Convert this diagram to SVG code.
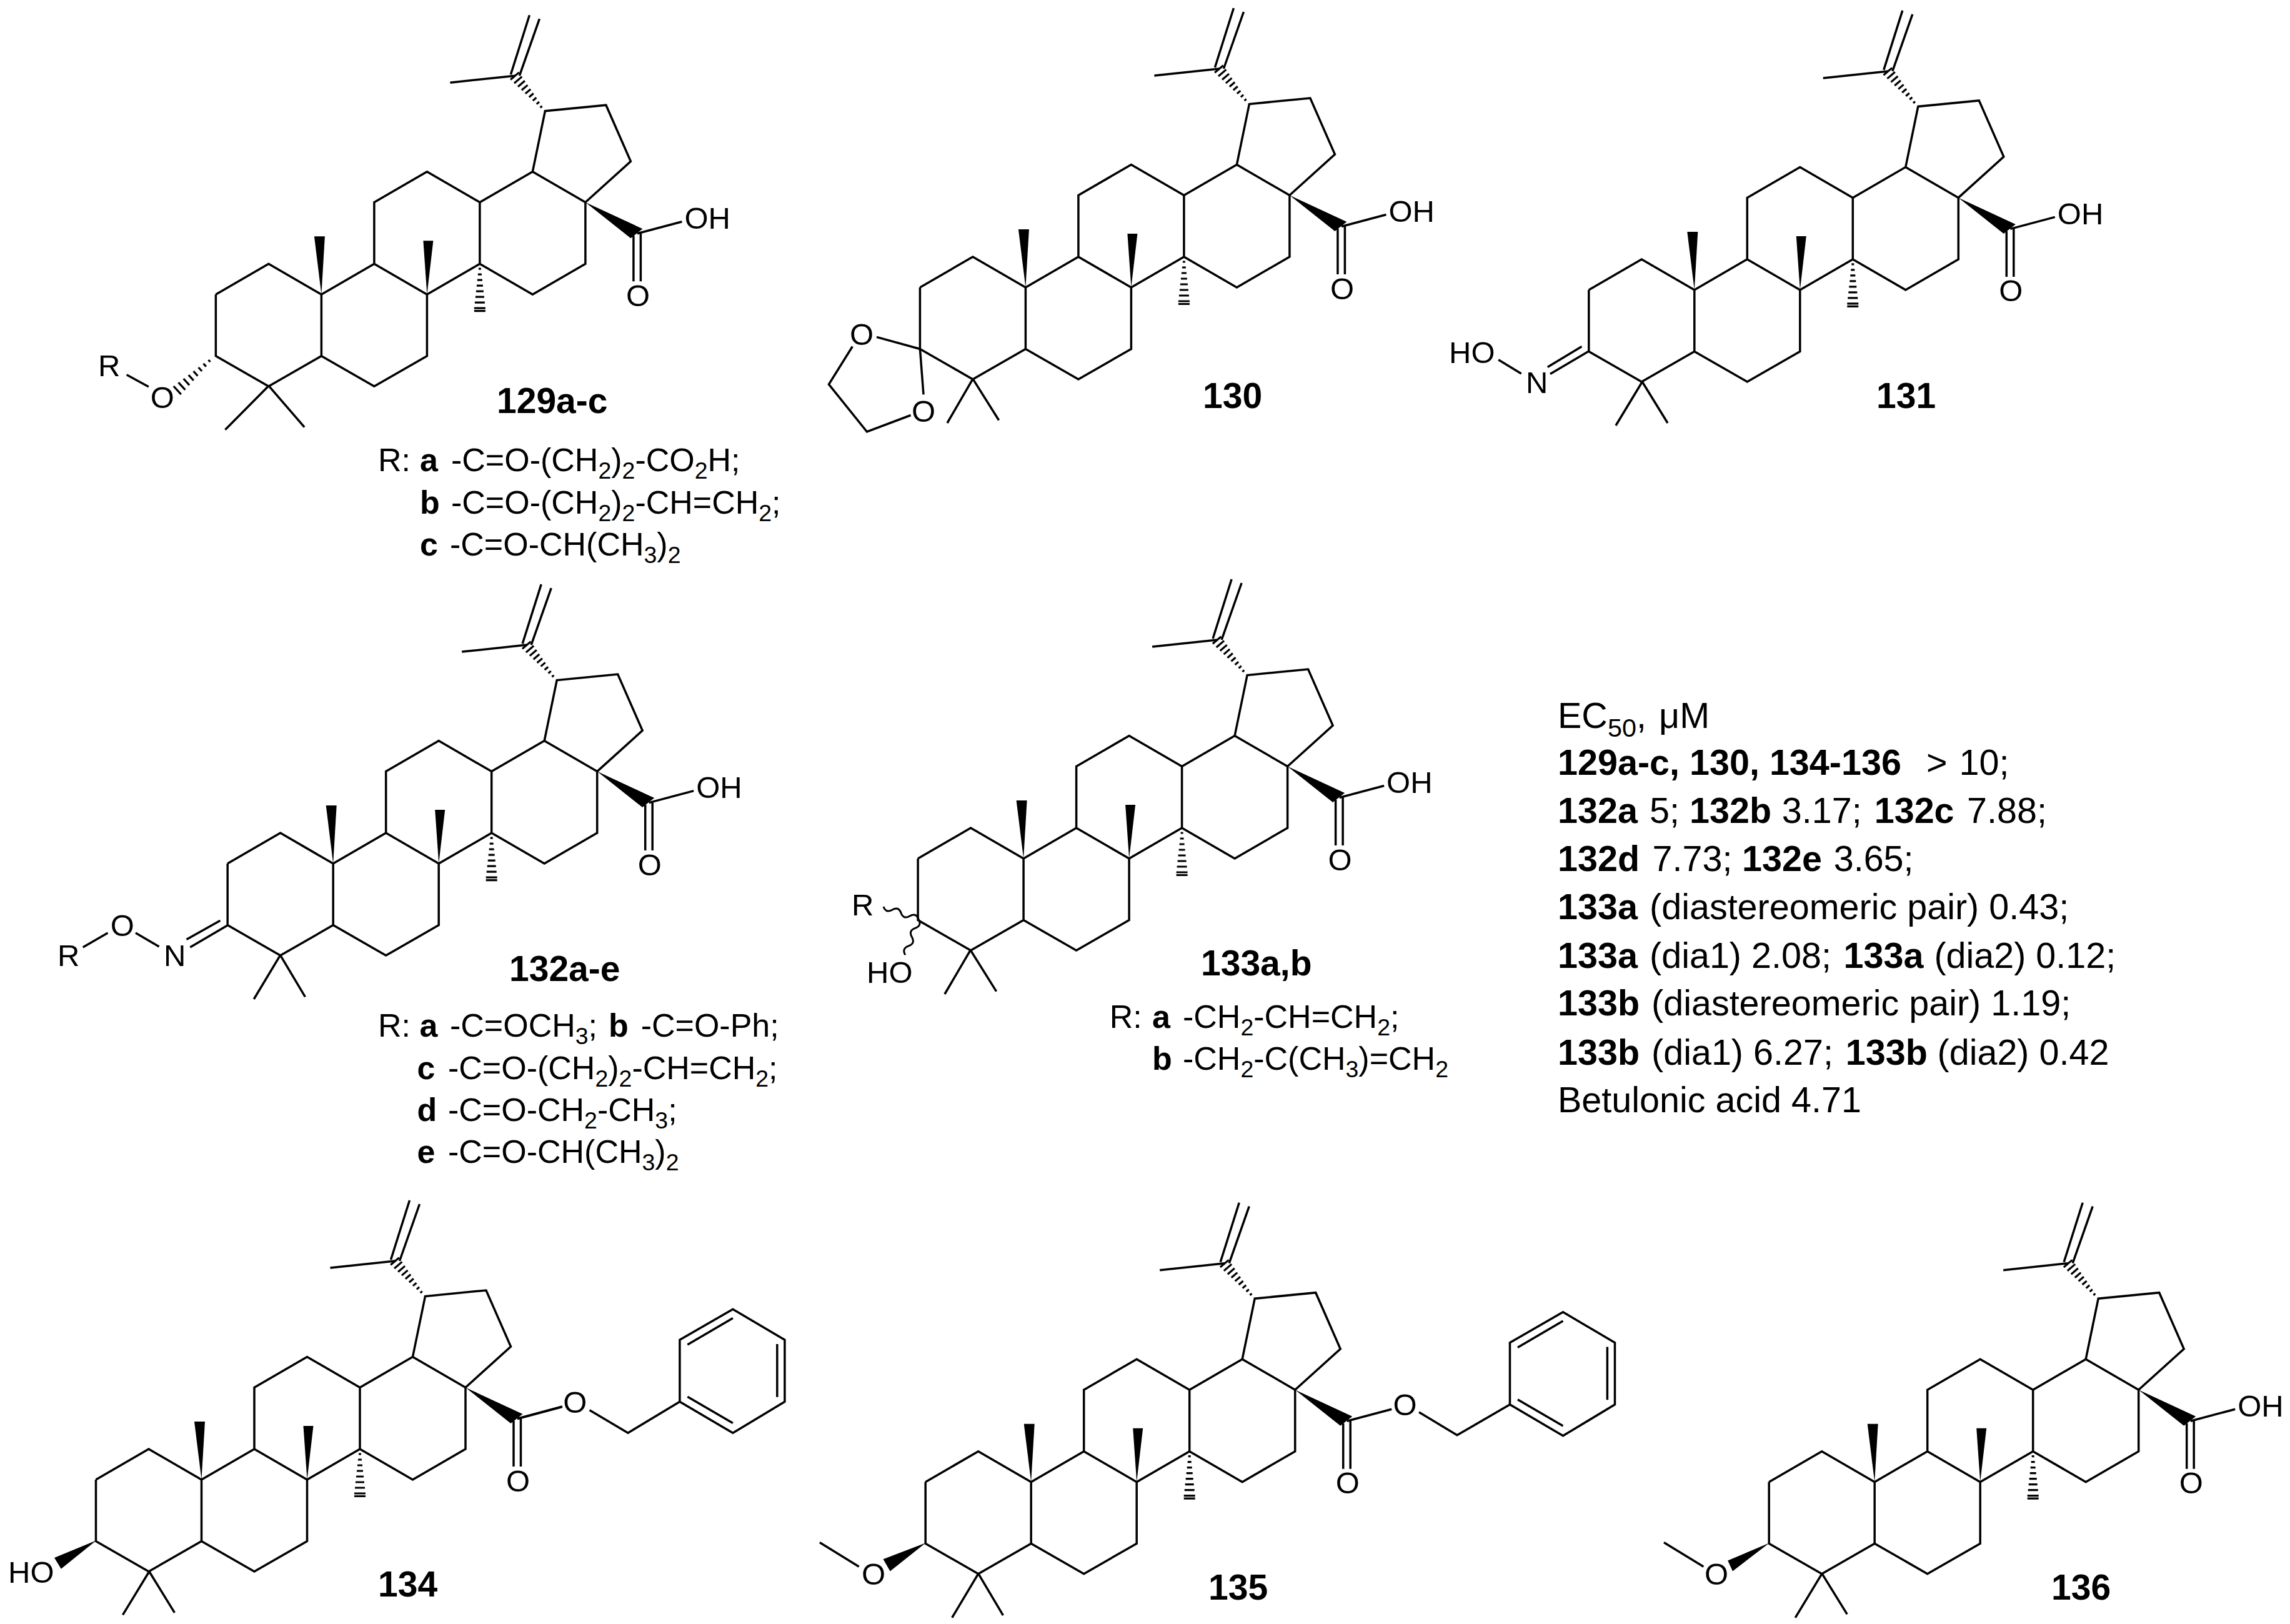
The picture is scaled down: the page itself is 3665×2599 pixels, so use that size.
<svg xmlns="http://www.w3.org/2000/svg" width="3665" height="2599" viewBox="0 0 3665 2599">
<style>
text{font-family:"Liberation Sans",Arial,sans-serif;fill:#000}
.a{font-size:49px}
.am{font-size:49px;text-anchor:middle}
.l{font-size:57px;font-weight:700}
.t{font-size:52px}
.p{font-size:57.5px}
.b{font-weight:700}
.n{font-weight:400}
.s{font-size:.72em}
.w{fill:#000;stroke:none}
.k{fill:none;stroke:#000;stroke-width:3.5;stroke-linejoin:miter;stroke-linecap:butt}
.h{fill:none;stroke:#000;stroke-width:3.2}
.v{fill:none;stroke:#000;stroke-width:3}
</style>
<defs>
<g id="skeleton">
<path class="k" d="M-169 0L-84.5 -49L0 0L84.5 -49L169 0L253.5 -49L338 0L422.5 -49L422.5 -147.5L338 -196.5L253.5 -147.5L253.5 -49M0 0V98.5L-84.5 147L-169 98.5V0M0 98.5L84.5 147L169 98.5V0M84.5 -49V-147.5L169 -196.5L253.5 -147.5M338 -196.5L358 -293.5L455.5 -303L495 -213L422.5 -147.5"/>
<path class="k" d="M206 -339L310 -350M303 -352L333 -447M317 -350L349 -441M499.5 -94V-21M511 -98V-21M505.5 -97.5L577 -116.5"/>
<polygon class="w" points="0,0 -11.5,-93 5.5,-93"/>
<polygon class="w" points="169,0 163,-86 179,-86"/>
<polygon class="w" points="422.5,-147.5 514,-105 495,-90"/>
<path class="h" d="M251.5 -41H255.5M250.5 -32H256.5M249.5 -23H257.5M248.5 -14H258.5M247.5 -5H259.5M246.5 4H260.5M245.5 13H261.5M244.5 22H262.5M244.5 26.5H262.5"/>
<path class="h" d="M350.2 -298.9L353.2 -301.5M344.4 -304.6L348.6 -308.2M338.4 -310.1L344 -314.9M332.4 -315.7L339.4 -321.7M326.4 -321.3L334.8 -328.5M320.5 -326.9L330.1 -335.1M314.6 -332.5L325.6 -341.9M308.6 -338L321 -348.6M302.7 -343.7L316.3 -355.3"/>
</g>
<g id="benzyl">
<path class="k" d="M0 0V-99L85 -148L168 -99V0L85 50ZM12.4 -91.4L85 -133.8M155.9 -92.3V-7.6M12.4 -8L85 34.3"/>
</g>
</defs>

<g id="mol-129">
<use href="#skeleton" x="514.4" y="471.2"/>
<path class="k" d="M430 617.4L360.4 687.8M430 617.4L487.2 683.7M202.7 599.8L237.9 619"/>
<path class="h" d="M333.5 576L336.5 579.2M325.5 581.9L329.9 586.7M317.6 588L323.2 594M309.6 594L316.4 601.6M301.8 600.1L309.8 608.9M293.7 606L303.1 616.4M285.6 612.1L296.4 623.9M277.8 618L289.8 631.2"/>
<text class="a" x="1095.4" y="366.2">OH</text>
<text class="am" x="1021" y="489.7">O</text>
<text class="a" x="157" y="601.5">R</text>
<text class="am" x="259.9" y="652.5">O</text>
<text class="l" x="795" y="660.7">129a-c</text>
<text class="t" x="605" y="754.3">R:</text>
<text class="t b" x="672" y="754.3">a</text>
<text class="t" x="722" y="754.3">-C=O-(CH<tspan class="s" dy="12">2</tspan><tspan dy="-12">)</tspan><tspan class="s" dy="12">2</tspan><tspan dy="-12">-CO</tspan><tspan class="s" dy="12">2</tspan><tspan dy="-12">H;</tspan></text>
<text class="t b" x="672" y="821.7">b</text>
<text class="t" x="722" y="821.7">-C=O-(CH<tspan class="s" dy="12">2</tspan><tspan dy="-12">)</tspan><tspan class="s" dy="12">2</tspan><tspan dy="-12">-CH=CH</tspan><tspan class="s" dy="12">2</tspan><tspan dy="-12">;</tspan></text>
<text class="t b" x="672" y="889">c</text>
<text class="t" x="720" y="889">-C=O-CH(CH<tspan class="s" dy="12">3</tspan><tspan dy="-12">)</tspan><tspan class="s" dy="12">2</tspan></text>
</g>

<g id="mol-130">
<use href="#skeleton" x="1641.4" y="460"/>
<path class="k" d="M1557 606.4L1516 677M1557 606.4L1598.6 672.5M1472.4 558.5L1403 539.4M1472.4 558.5L1478 631.4M1364.3 554.5L1326.5 615L1387.5 691L1457.6 664.5"/>
<text class="a" x="2222.4" y="355">OH</text>
<text class="am" x="2148" y="478.5">O</text>
<text class="am" x="1379" y="551.5">O</text>
<text class="am" x="1478" y="674.5">O</text>
<text class="l" x="1925" y="652.7">130</text>
</g>

<g id="mol-131">
<use href="#skeleton" x="2711.8" y="463.9"/>
<path class="k" d="M2628.3 611L2586 681M2628.3 611L2669 677M2398.2 575.7L2434.7 598M2543.4 561.6L2481 598.4M2531.5 554.5L2476.8 587.5"/>
<text class="a" x="3292.8" y="358.9">OH</text>
<text class="am" x="3218.3" y="482.4">O</text>
<text class="a" x="2319" y="580.5">HO</text>
<text class="a" x="2442" y="629">N</text>
<text class="l" x="3003" y="652.7">131</text>
</g>

<g id="mol-132">
<use href="#skeleton" x="533.2" y="1382.1"/>
<path class="k" d="M448.6 1528.6L406.3 1599M448.6 1528.6L488.4 1595.4M132.7 1516L172.5 1492.9M217 1492.9L254.6 1515M364.8 1480.4L304.3 1516M352.4 1473.2L298.5 1503.6"/>
<text class="a" x="1114.2" y="1277.1">OH</text>
<text class="am" x="1039.7" y="1400.6">O</text>
<text class="a" x="92" y="1546.4">R</text>
<text class="am" x="195.7" y="1497.5">O</text>
<text class="a" x="262" y="1546.4">N</text>
<text class="l" x="815" y="1569.6">132a-e</text>
<text class="t" x="605" y="1659">R:</text>
<text class="t b" x="671.6" y="1659">a</text>
<text class="t" x="720" y="1659">-C=OCH<tspan class="s" dy="12">3</tspan><tspan dy="-12">;</tspan></text>
<text class="t b" x="974" y="1659">b</text>
<text class="t" x="1025.7" y="1659">-C=O-Ph;</text>
<text class="t b" x="667.5" y="1726.8">c</text>
<text class="t" x="717" y="1726.8">-C=O-(CH<tspan class="s" dy="12">2</tspan><tspan dy="-12">)</tspan><tspan class="s" dy="12">2</tspan><tspan dy="-12">-CH=CH</tspan><tspan class="s" dy="12">2</tspan><tspan dy="-12">;</tspan></text>
<text class="t b" x="667.5" y="1794">d</text>
<text class="t" x="717" y="1794">-C=O-CH<tspan class="s" dy="12">2</tspan><tspan dy="-12">-CH</tspan><tspan class="s" dy="12">3</tspan><tspan dy="-12">;</tspan></text>
<text class="t b" x="667.5" y="1861.4">e</text>
<text class="t" x="717" y="1861.4">-C=O-CH(CH<tspan class="s" dy="12">3</tspan><tspan dy="-12">)</tspan><tspan class="s" dy="12">2</tspan></text>
</g>

<g id="mol-133">
<use href="#skeleton" x="1638.1" y="1374"/>
<path class="k" d="M1553.2 1520.5L1511.9 1591M1553.2 1520.5L1594.6 1586.6"/>
<path class="v" d="M1470 1471q-4 -11 -14 -5q-10 6 -14 -5q-4 -11 -14 -5q-10 6 -14 -5M1470 1471q5.85 10.25 -5.3 14.3q-11.15 4.05 -5.3 14.3q5.85 10.25 -5.3 14.3q-11.15 4.05 -5.3 14.3"/>
<text class="a" x="2219.1" y="1269">OH</text>
<text class="am" x="2144.6" y="1392.5">O</text>
<text class="a" x="1363" y="1464.7">R</text>
<text class="a" x="1387" y="1573.2">HO</text>
<text class="l" x="1922" y="1560.7">133a,b</text>
<text class="t" x="1775.7" y="1645">R:</text>
<text class="t b" x="1843.9" y="1645">a</text>
<text class="t" x="1893" y="1645">-CH<tspan class="s" dy="12">2</tspan><tspan dy="-12">-CH=CH</tspan><tspan class="s" dy="12">2</tspan><tspan dy="-12">;</tspan></text>
<text class="t b" x="1843.9" y="1712">b</text>
<text class="t" x="1893" y="1712">-CH<tspan class="s" dy="12">2</tspan><tspan dy="-12">-C(CH</tspan><tspan class="s" dy="12">3</tspan><tspan dy="-12">)=CH</tspan><tspan class="s" dy="12">2</tspan></text>
</g>

<g id="mol-134">
<use href="#skeleton" x="322.5" y="2368"/>
<use href="#benzyl" x="1087.9" y="2243.3"/>
<path class="k" d="M238.8 2515L196.5 2584.4M238.8 2515L279.4 2580.8M943.6 2256.7L1005 2293.2L1087.9 2243.3M900 2251L828 2270.5"/>
<polygon class="w" points="154.2,2465.3 87,2493 97.8,2510.8"/>
<text class="am" x="920.4" y="2261">O</text>
<text class="am" x="829" y="2386.5">O</text>
<text class="a" x="13" y="2533">HO</text>
<text class="l" x="605" y="2555.4">134</text>
</g>

<g id="mol-135">
<use href="#skeleton" x="1650.2" y="2371.7"/>
<use href="#benzyl" x="2416.5" y="2247.8"/>
<path class="k" d="M1565.8 2518.4L1523.7 2588.8M1565.8 2518.4L1605.4 2585.2M2271 2260L2332 2296.8L2416.5 2247.8M1374.7 2507.2L1311.9 2468.4"/>
<polygon class="w" points="1481.5,2469.3 1413.5,2495.2 1424.6,2514.4"/>
<text class="am" x="2248.6" y="2265.3">O</text>
<text class="am" x="2156.7" y="2390.2">O</text>
<text class="am" x="1398" y="2536.3">O</text>
<text class="l" x="1934" y="2559.8">135</text>
</g>

<g id="mol-136">
<use href="#skeleton" x="3000.2" y="2371.7"/>
<path class="k" d="M2916 2518.4L2873.3 2588.8M2916 2518.4L2956.2 2583.4M2726.4 2507.2L2663 2468.4"/>
<polygon class="w" points="2831.9,2469.3 2765.2,2497.4 2773,2514.4"/>
<text class="a" x="3581.2" y="2266.7">OH</text>
<text class="am" x="3506.7" y="2390.2">O</text>
<text class="am" x="2747" y="2536.3">O</text>
<text class="l" x="3283" y="2559.8">136</text>
</g>

<g id="activity">
<text class="p" x="2493" y="1164.5">EC<tspan class="s" dy="14">50</tspan><tspan dy="-14">,</tspan><tspan x="2655">μM</tspan></text>
<text class="p b" x="2493" y="1240">129a-c, 130, 134-136<tspan class="n" x="3083">&gt;</tspan><tspan class="n" x="3135.6">10;</tspan></text>
<text class="p" x="2493" y="1317"><tspan class="b">132a</tspan><tspan x="2640">5;</tspan><tspan class="b" x="2704">132b</tspan><tspan x="2851.8">3.17;</tspan><tspan class="b" x="2999.7">132c</tspan><tspan x="3148">7.88;</tspan></text>
<text class="p" x="2493" y="1393.5"><tspan class="b">132d</tspan><tspan x="2644.5">7.73;</tspan><tspan class="b" x="2788">132e</tspan><tspan x="2934.7">3.65;</tspan></text>
<text class="p" x="2493" y="1471"><tspan class="b">133a</tspan><tspan x="2640">(diastereomeric pair) 0.43;</tspan></text>
<text class="p" x="2493" y="1548.6"><tspan class="b">133a</tspan><tspan x="2640">(dia1) 2.08;</tspan><tspan class="b" x="2950.6">133a</tspan><tspan x="3095.4">(dia2) 0.12;</tspan></text>
<text class="p" x="2493" y="1625.4"><tspan class="b">133b</tspan><tspan x="2643">(diastereomeric pair) 1.19;</tspan></text>
<text class="p" x="2493" y="1703.6"><tspan class="b">133b</tspan><tspan x="2643">(dia1) 6.27;</tspan><tspan class="b" x="2953.8">133b</tspan><tspan x="3100.5">(dia2) 0.42</tspan></text>
<text class="p" x="2493" y="1780">Betulonic acid 4.71</text>
</g>
</svg>
